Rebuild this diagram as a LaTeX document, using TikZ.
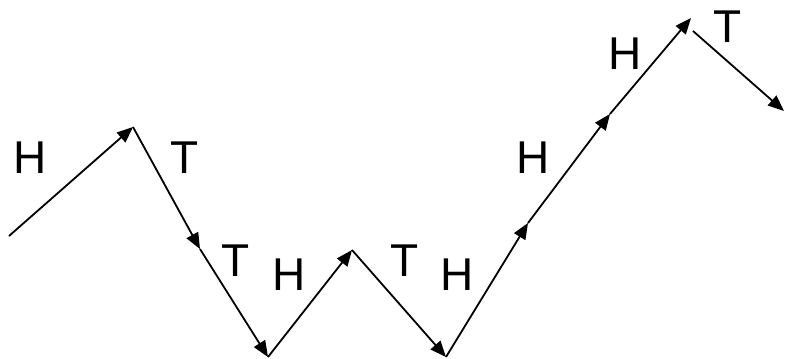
\documentclass[tikz,border=0pt]{standalone}
\usepackage{fontspec}
\setmainfont{Liberation Sans}
\usetikzlibrary{arrows.meta}
\begin{document}
\begin{tikzpicture}[x=1pt,y=-1pt,
  seg/.style={line width=1.8pt,-{Triangle[length=16pt,width=13pt]}},
  lbl/.style={font=\fontsize{46}{46}\selectfont,inner sep=0pt,anchor=center}]
\useasboundingbox (0,0) rectangle (785,359);
\coordinate (p0) at (9,236);
\coordinate (p1) at (133,127);
\coordinate (p2) at (200,249);
\coordinate (p3) at (268,357);
\coordinate (p4) at (352,250);
\coordinate (p5) at (446,357);
\coordinate (p6) at (528,223);
\coordinate (p7) at (610,114);
\coordinate (p8) at (691,18);
\coordinate (p8b) at (693,31);
\coordinate (p9) at (784,111);
\draw[seg] (p0) -- (p1);
\draw[seg] (p1) -- (p2);
\draw[seg] (p2) -- (p3);
\draw[seg] (p3) -- (p4);
\draw[seg] (p4) -- (p5);
\draw[seg] (p5) -- (p6);
\draw[seg] (p6) -- (p7);
\draw[seg] (p7) -- (p8);
\draw[seg] (p8b) -- (p9);
\node[lbl] (l1) at (30,158) {H};
\node[lbl] (l2) at (185,158) {T};
\node[lbl] (l3) at (236,261) {T};
\node[lbl] (l4) at (289,275) {H};
\node[lbl] (l5) at (405,261) {T};
\node[lbl] (l6) at (457,275) {H};
\node[lbl] (l7) at (533,158) {H};
\node[lbl] (l8) at (625,54) {H};
\node[lbl] (l9) at (728,27) {T};
\end{tikzpicture}
\end{document}
